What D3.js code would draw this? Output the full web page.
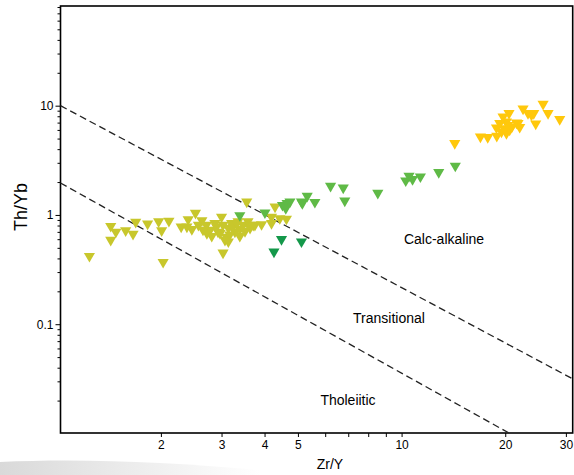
<!doctype html>
<meta charset="utf-8">
<style>
body { margin: 0; background: #fff; }
svg { font-family: "Liberation Sans", Arial, sans-serif; }
.axis path { display: none; }
.axis line { stroke: #000; }
.axis text { font-size: 12px; fill: #000; }
</style>
<body>
<div id="viz"></div>
<script src="https://d3js.org/d3.v7.min.js"></script>
<script>
// Zr/Y vs Th/Yb
var yellowZrY = [1.24, 1.43, 1.48, 1.43, 1.58, 1.66, 1.69, 1.83, 1.97, 2.01, 2.11, 2.03, 2.29, 2.38, 2.40, 2.52, 2.46,
  2.63, 2.57, 2.71, 2.78, 2.87, 2.93, 3.00, 3.03, 3.10, 3.14, 3.21, 3.28, 3.35, 3.47, 3.58, 3.71, 2.97, 3.07, 3.17,
  2.65, 2.90, 3.24, 3.39, 3.03, 3.55, 3.32, 3.75, 3.63, 3.92, 4.19, 4.43, 4.63, 4.19, 4.29, 2.81, 2.72, 3.39, 3.51, 3.14];
var yellowThYb = [0.42, 0.79, 0.70, 0.59, 0.72, 0.67, 0.86, 0.83, 0.87, 0.72, 0.88, 0.37, 0.78, 0.78, 0.91, 1.04, 0.74,
  0.89, 0.81, 0.81, 0.73, 0.84, 0.70, 0.96, 0.81, 0.63, 0.76, 0.84, 0.70, 0.87, 0.81, 0.87, 0.81, 0.68, 0.59, 0.66,
  0.73, 0.78, 0.78, 0.74, 0.45, 1.32, 0.84, 0.81, 0.76, 0.82, 0.96, 0.93, 0.92, 0.84, 1.19, 0.64, 0.68, 0.64, 0.71, 0.57];

var greenZrY = [3.39, 4.01, 4.51, 4.65, 4.74, 4.61, 5.12, 5.15, 5.32, 5.60, 6.22, 6.77, 6.84, 8.53, 10.28, 10.51, 10.76, 11.34, 12.82, 14.32];
var greenThYb = [0.99, 1.05, 1.23, 1.28, 1.32, 1.15, 1.32, 1.28, 1.49, 1.31, 1.84, 1.77, 1.35, 1.59, 2.06, 2.27, 2.12, 2.24, 2.46, 2.81];

var darkZrY = [4.48, 5.12, 4.26];
var darkThYb = [0.60, 0.57, 0.46];

var goldZrY = [14.27, 16.94, 17.79, 18.86, 18.9, 19.5, 19.71, 20.16, 20.16, 20.51, 20.6, 20.37, 19.28, 21.56, 21.78,
  22.03, 22.53, 23.29, 23.83, 24.2, 24.52, 25.76, 26.63, 28.79, 20.9, 19.9];
var goldThYb = [4.53, 5.20, 5.13, 6.3, 5.28, 5.78, 7.93, 7.14, 5.6, 8.52, 6.0, 6.64, 6.90, 6.98, 6.90,
  6.36, 9.37, 8.52, 8.23, 8.52, 6.83, 10.36, 8.52, 7.51, 6.4, 6.2];

// field boundaries (end points)
var upperZrY = [1.022, 31.4], upperThYb = [10, 0.0316];
var lowerZrY = [1.022, 20.5], lowerThYb = [1.96, 0.0101];

var xMajor = [2, 3, 4, 5, 10, 20, 30];
var xMinor = [6, 7, 8, 9];
var yMajor = [0.1, 1, 10];
var yMinor = [0.02, 0.03, 0.04, 0.05, 0.06, 0.07, 0.08, 0.09, 0.2, 0.3, 0.4, 0.5, 0.6, 0.7, 0.8, 0.9,
  2, 3, 4, 5, 6, 7, 8, 9, 20, 30, 40, 50, 60, 70, 80];

var fields = ["Calc-alkaline", "Transitional", "Tholeiitic"];

var width = 574, height = 475;
var svg = d3.select("#viz").append("svg").attr("width", width).attr("height", height);

// faint grey swoosh at the bottom left
var defs = svg.append("defs");
var grad = defs.append("linearGradient").attr("id", "sw").attr("x1", 0).attr("x2", 1);
grad.append("stop").attr("offset", 0).attr("stop-color", "#d9d9d9");
grad.append("stop").attr("offset", 1).attr("stop-color", "#fff");
svg.append("path").attr("d", "M0,462 C80,458 170,462 260,470 L260,475 L0,475 Z").attr("fill", "url(#sw)");

var x = d3.scaleLog().domain([1.022, 31.4]).range([60.5, 572.7]);
var y = d3.scaleLog().domain([0.0101, 81.7]).range([433, 6]);

// axes
svg.append("g").attr("class", "axis").attr("transform", "translate(0,433)")
  .call(d3.axisBottom(x).tickValues(xMajor).tickSize(4).tickPadding(3).tickFormat(d3.format("d")));
svg.append("g").attr("class", "axis").attr("transform", "translate(0,433)")
  .call(d3.axisBottom(x).tickValues(xMinor).tickSize(4).tickFormat(""));
svg.append("g").attr("class", "axis").attr("transform", "translate(60.5,0)")
  .call(d3.axisLeft(y).tickValues(yMajor).tickSize(5).tickPadding(2).tickFormat(function(d) { return d; }));
svg.append("g").attr("class", "axis").attr("transform", "translate(60.5,0)")
  .call(d3.axisLeft(y).tickValues(yMinor).tickSize(3).tickFormat(""));

// frame
svg.append("rect").attr("x", 60.5).attr("y", 6).attr("width", 572.7 - 60.5).attr("height", 433 - 6)
  .attr("fill", "none").attr("stroke", "#000").attr("stroke-width", 1.6);

// boundary lines
var line = d3.line().x(function(d) { return x(d[0]); }).y(function(d) { return y(d[1]); });
[[upperZrY, upperThYb], [lowerZrY, lowerThYb]].forEach(function(l) {
  svg.append("path").datum(d3.zip(l[0], l[1])).attr("d", line)
    .attr("fill", "none").attr("stroke", "#222").attr("stroke-width", 1.3).attr("stroke-dasharray", "7,4");
});

// samples
var tri = d3.symbol().type(d3.symbolTriangle).size(54);
function plot(xs, ys, color) {
  svg.append("g").selectAll("path").data(d3.zip(xs, ys)).enter().append("path")
    .attr("d", tri)
    .attr("transform", function(d) { return "translate(" + x(d[0]) + "," + y(d[1]) + ") rotate(180)"; })
    .attr("fill", color);
}
plot(yellowZrY, yellowThYb, "#c8c72c");
plot(greenZrY, greenThYb, "#5fba46");
plot(darkZrY, darkThYb, "#14984a");
plot(goldZrY, goldThYb, "#ffc80c");

// field names
var pos = [[444, 244], [389, 323], [348, 405]];
svg.append("g").selectAll("text").data(fields).enter().append("text")
  .attr("x", function(d, i) { return pos[i][0]; }).attr("y", function(d, i) { return pos[i][1]; })
  .attr("text-anchor", "middle").attr("font-size", 14).text(function(d) { return d; });

// axis titles
svg.append("text").attr("x", 330).attr("y", 469).attr("text-anchor", "middle").attr("font-size", 14).text("Zr/Y");
svg.append("text").attr("transform", "translate(27,207) rotate(-90)").attr("text-anchor", "middle")
  .attr("font-size", 18).text("Th/Yb");
</script>
</body>
